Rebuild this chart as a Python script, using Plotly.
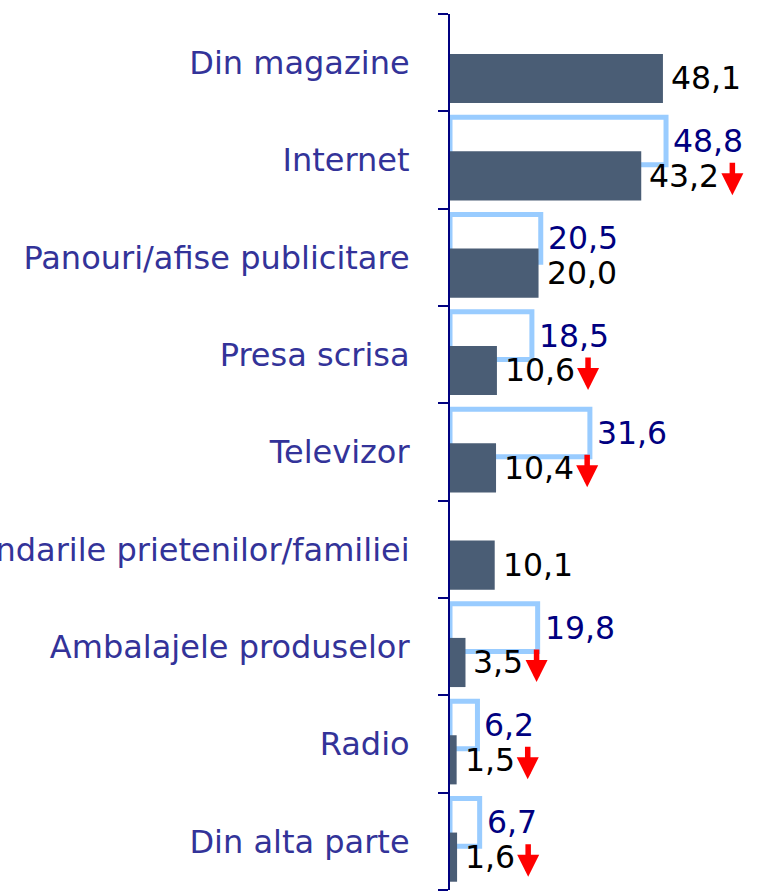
import plotly.graph_objects as go

categories = [
    "Din magazine",
    "Internet",
    "Panouri/afise publicitare",
    "Presa scrisa",
    "Televizor",
    "Recomandarile prietenilor/familiei",
    "Ambalajele produselor",
    "Radio",
    "Din alta parte",
]
current = [48.1, 43.2, 20.0, 10.6, 10.4, 10.1, 3.5, 1.5, 1.6]
previous = [None, 48.8, 20.5, 18.5, 31.6, None, 19.8, 6.2, 6.7]
decline = [False, True, False, True, True, False, True, True, True]

DARK = "#4A5D75"
LIGHT = "#99CCFF"
NAVY = "#000080"
LABEL = "#333399"
RED = "#FF0000"
FONT = "DejaVu Sans"
VAL_SIZE = 31.5
LBL_SIZE = 32

idx = list(range(len(categories)))

PREV_OFF, PREV_W = -0.44, 0.49
CUR_OFF, CUR_W = -0.09, 0.505

# approximate DejaVu Sans advance widths (em) for value strings
GLYPH_EM = {",": 0.318}


def fmt(v):
    return f"{v:.1f}".replace(".", ",")


def text_px(s, size):
    return sum(GLYPH_EM.get(ch, 0.636) for ch in s) * size


fig = go.Figure()
fig.add_trace(go.Bar(
    x=previous, y=idx, orientation="h",
    width=PREV_W, offset=PREV_OFF,
    marker=dict(color="rgba(255,255,255,0)", line=dict(color=LIGHT, width=5)),
    cliponaxis=False, hoverinfo="skip", showlegend=False,
))
fig.add_trace(go.Bar(
    x=current, y=idx, orientation="h",
    width=CUR_W, offset=CUR_OFF,
    marker=dict(color=DARK, line=dict(width=0)),
    cliponaxis=False, hoverinfo="skip", showlegend=False,
))

annotations = []
for i, (c, p, d) in enumerate(zip(current, previous, decline)):
    label = fmt(c)
    yc = i + CUR_OFF + CUR_W / 2
    annotations.append(dict(
        x=c, y=yc, xref="x", yref="y",
        text=label, showarrow=False, xanchor="left", yanchor="middle",
        xshift=6, font=dict(family=FONT, size=VAL_SIZE, color="#000000"),
    ))
    if d:
        annotations.append(dict(
            x=c, y=yc, xref="x", yref="y", text="",
            showarrow=True, axref="pixel", ayref="pixel", ax=0, ay=-34,
            arrowhead=2, arrowsize=0.8, arrowwidth=5.5, arrowcolor=RED,
            standoff=0, startstandoff=0,
            xshift=10 + text_px(label, VAL_SIZE) + 11, yshift=-19.5,
        ))
    if p is not None:
        annotations.append(dict(
            x=p, y=i + PREV_OFF + PREV_W / 2, xref="x", yref="y",
            text=fmt(p), showarrow=False, xanchor="left", yanchor="middle",
            xshift=5, font=dict(family=FONT, size=VAL_SIZE, color=NAVY),
        ))

fig.update_layout(
    template="none",
    width=759, height=894,
    margin=dict(l=450, r=0, t=14, b=4, autoexpand=False),
    paper_bgcolor="white", plot_bgcolor="white",
    barmode="overlay",
    showlegend=False,
    annotations=annotations,
    xaxis=dict(range=[0, 69.8], visible=False, showgrid=False, zeroline=False,
               automargin=False),
    yaxis=dict(
        range=[8.5, -0.5],
        tickmode="array", tickvals=idx, ticktext=categories,
        ticks="", showgrid=False, zeroline=False,
        showline=True, linecolor=NAVY, linewidth=2,
        tickfont=dict(family=FONT, size=LBL_SIZE, color=LABEL),
        ticklabelstandoff=32,
        automargin=False,
        minor=dict(tickmode="array",
                   tickvals=[k - 0.5 for k in range(len(categories) + 1)],
                   ticks="outside", ticklen=10, tickwidth=2, tickcolor=NAVY,
                   showgrid=False),
    ),
)

fig.write_html("out.html", config={"displayModeBar": False},
               post_script="document.body.style.margin='0';")
